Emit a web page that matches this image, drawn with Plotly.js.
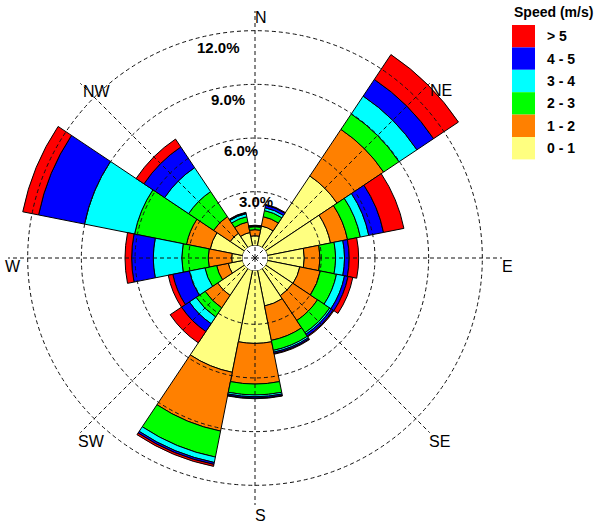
<!DOCTYPE html>
<html>
<head>
<meta charset="utf-8">
<script src="https://cdn.plot.ly/plotly-3.0.1.min.js"></script>
<style>
  html, body { margin: 0; padding: 0; background: #fff; }
  #chart { width: 600px; height: 526px; }
</style>
</head>
<body>
<div id="chart"></div>
<script>
// wind directions, clockwise from north
const directions = ['N', 'NNE', 'NE', 'ENE', 'E', 'ESE', 'SE', 'SSE',
  'S', 'SSW', 'SW', 'WSW', 'W', 'WNW', 'NW', 'NNW'];

// frequency (%) of each speed class per direction
const speed0to1 = [0.54, 1.12, 4.81, 3.60, 2.05, 1.85, 1.83, 2.03, 4.07, 5.81, 1.81, 0.82, 0.60, 1.85, 0.96, 0.75];
const speed1to2 = [0.34, 0.53, 3.13, 0.97, 0.88, 1.17, 1.67, 1.96, 2.27, 3.35, 0.84, 0.66, 1.31, 1.35, 1.12, 0.60];
const speed2to3 = [0.17, 0.35, 1.04, 0.73, 0.87, 0.92, 0.82, 0.57, 0.61, 1.48, 0.61, 0.67, 1.48, 2.96, 1.68, 0.30];
const speed3to4 = [0.03, 0.16, 1.20, 0.48, 0.50, 0.46, 0.10, 0.10, 0.10, 0.31, 0.45, 0.89, 1.59, 2.85, 1.61, 0.17];
const speed4to5 = [0.02, 0.15, 1.12, 0.84, 0.26, 0.20, 0.13, 0.08, 0.08, 0.11, 0.53, 0.94, 1.21, 2.62, 1.39, 0.05];
const speedOver5 = [0.03, 0.04, 1.67, 1.16, 0.53, 0.27, 0.05, 0.04, 0.03, 0.11, 0.76, 0.26, 0.37, 0.90, 0.53, 0.03];

const speedLabels = ['0 - 1', '1 - 2', '2 - 3', '3 - 4', '4 - 5', '> 5'];
const ringTicks = [3, 6, 9, 12];
const ringLabels = ['3.0%', '6.0%', '9.0%', '12.0%'];
const compassTicks = ['N', 'NE', 'E', 'SE', 'S', 'SW', 'W', 'NW'];

const colors = ['#ffff80', '#ff8000', '#00ff00', '#00ffff', '#0000ff', '#ff0000'];
const series = [speed0to1, speed1to2, speed2to3, speed3to4, speed4to5, speedOver5];

const W = 600, H = 526;
const px = (x) => x / W;
const py = (y) => 1 - y / H;

// polar area: centre (255,258), radius 247 px
const rMax = 13.1;
const domain = { x: [px(8), px(502)], y: [py(505), py(11)] };
const holeFrac = 12.6 / 247;
const rMin2 = -rMax * holeFrac / (1 - holeFrac);

const traces = series.map((vals, i) => ({
  type: 'barpolar',
  r: vals,
  theta: directions,
  name: speedLabels[i],
  marker: { color: colors[i], line: { color: '#000', width: 1 } },
  hoverinfo: 'skip',
  subplot: 'polar'
}));

// empty carrier so the grid subplot on top gets drawn
traces.push({
  type: 'scatterpolar',
  r: ringTicks,
  theta: ringTicks.map(() => 0),
  mode: 'none',
  hoverinfo: 'skip',
  subplot: 'polar2'
});

const annotations = [];
// ring labels
const ringPos = [[256, 201], [241, 151], [228, 99], [218, 47]];
ringLabels.forEach((t, i) => {
  annotations.push({
    text: t, x: px(ringPos[i][0]), y: py(ringPos[i][1]), xref: 'paper', yref: 'paper',
    showarrow: false, xanchor: 'center', yanchor: 'middle',
    font: { family: 'Liberation Sans, Arial', size: 15, color: '#000', weight: 'bold' }
  });
});
// compass labels
const compassPos = [[261, 18], [441, 90], [507, 266], [440, 441], [260, 515], [91, 441], [13, 266], [97, 92]];
compassTicks.forEach((t, i) => {
  annotations.push({
    text: t, x: px(compassPos[i][0]), y: py(compassPos[i][1]), xref: 'paper', yref: 'paper',
    showarrow: false, xanchor: 'center', yanchor: 'middle',
    font: { family: 'Liberation Sans, Arial', size: 16, color: '#000' }
  });
});

// legend drawn by hand
const shapes = [];
annotations.push({
  text: 'Speed (m/s)', x: px(553), y: py(12), xref: 'paper', yref: 'paper',
  showarrow: false, xanchor: 'center', yanchor: 'middle',
  font: { family: 'Liberation Sans, Arial', size: 14, color: '#000', weight: 'bold' }
});
const boxH = 22.4;
for (let k = 0; k < speedLabels.length; k++) {
  const i = speedLabels.length - 1 - k;
  const y0 = 25 + k * boxH;
  shapes.push({
    type: 'rect', xref: 'paper', yref: 'paper',
    x0: px(512), x1: px(535), y0: py(y0), y1: py(y0 + boxH),
    fillcolor: colors[i], line: { width: 0 }
  });
  annotations.push({
    text: speedLabels[i], x: px(545), y: py(y0 + boxH / 2), xref: 'paper', yref: 'paper',
    showarrow: false, xanchor: 'left', yanchor: 'middle',
    font: { family: 'Liberation Sans, Arial', size: 14, color: '#000', weight: 'bold' }
  });
}

const gridStyle = { gridcolor: '#111', griddash: '4px,3px', gridwidth: 1 };

const layout = {
  width: W,
  height: H,
  margin: { t: 0, l: 0, r: 0, b: 0 },
  paper_bgcolor: '#fff',
  showlegend: false,
  polar: {
    domain: domain,
    bgcolor: 'rgba(0,0,0,0)',
    hole: holeFrac,
    barmode: 'stack',
    bargap: 0,
    radialaxis: { range: [0, rMax], visible: false },
    angularaxis: {
      type: 'category', categoryarray: directions, rotation: 90,
      direction: 'clockwise', visible: false
    }
  },
  polar2: {
    domain: domain,
    bgcolor: 'rgba(0,0,0,0)',
    radialaxis: {
      range: [rMin2, rMax], tickvals: ringTicks, showticklabels: false,
      ticks: '', showline: false, ...gridStyle
    },
    angularaxis: {
      rotation: 90, direction: 'clockwise', dtick: 45, tick0: 0,
      showticklabels: false, ticks: '', showline: false, ...gridStyle
    }
  },
  annotations: annotations,
  shapes: shapes
};

Plotly.newPlot('chart', traces, layout, { displayModeBar: false, staticPlot: true });
</script>
</body>
</html>
